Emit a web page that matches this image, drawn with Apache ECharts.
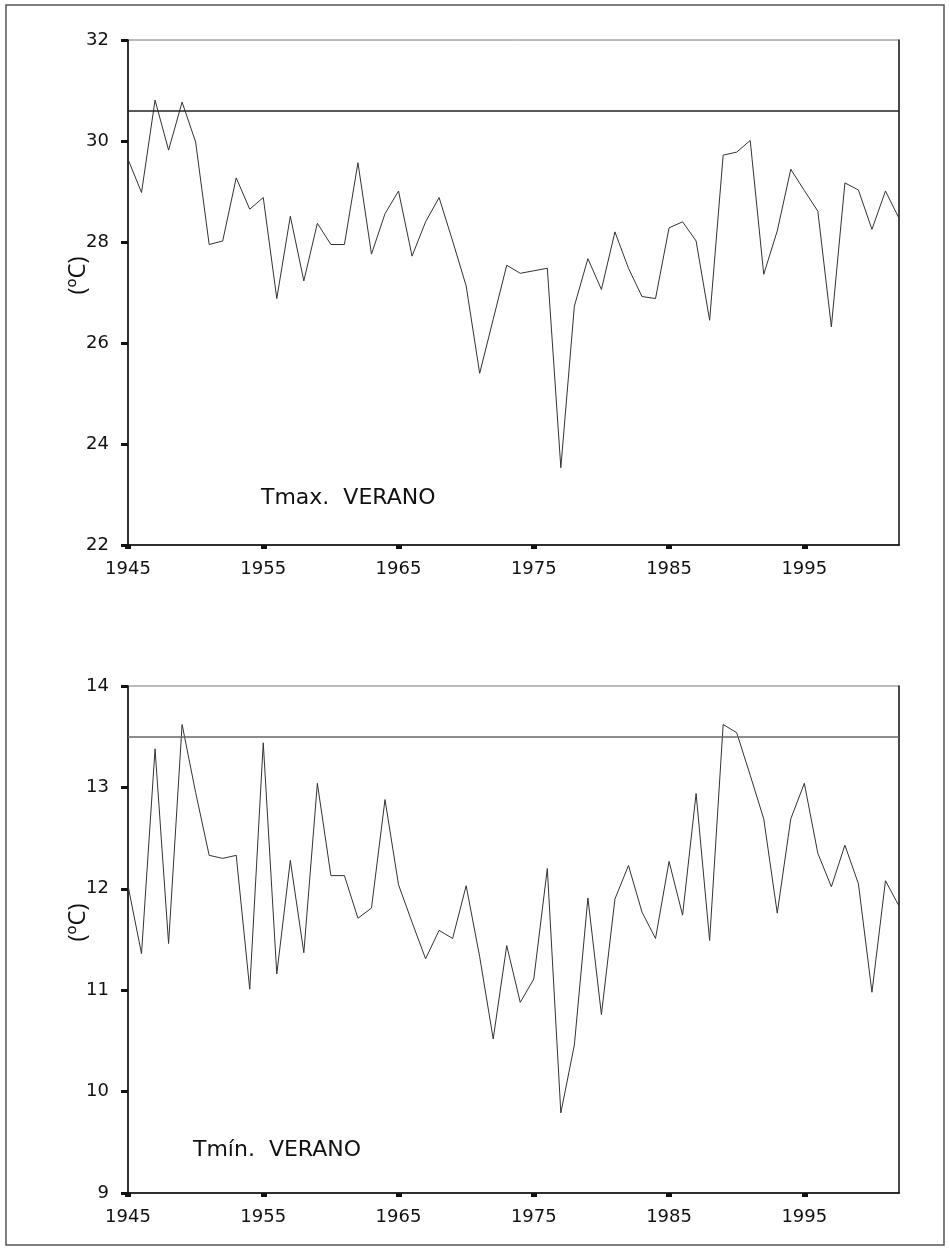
<!DOCTYPE html>
<html>
<head>
<meta charset="utf-8">
<title>Tmax / Tmín VERANO</title>
<script src="https://cdn.jsdelivr.net/npm/echarts@6/dist/echarts.min.js"></script>
<style>
  html, body { margin: 0; padding: 0; background: #fff; }
  #chart { width: 949px; height: 1250px; }
</style>
</head>
<body>
<div id="chart"></div>
<script>
const years = ['1945', '1946', '1947', '1948', '1949', '1950', '1951', '1952', '1953', '1954',
    '1955', '1956', '1957', '1958', '1959', '1960', '1961', '1962', '1963', '1964',
    '1965', '1966', '1967', '1968', '1969', '1970', '1971', '1972', '1973', '1974',
    '1975', '1976', '1977', '1978', '1979', '1980', '1981', '1982', '1983', '1984',
    '1985', '1986', '1987', '1988', '1989', '1990', '1991', '1992', '1993', '1994',
    '1995', '1996', '1997', '1998', '1999', '2000', '2001', '2002'];

const tmaxVerano = [29.64, 28.98, 30.81, 29.82, 30.77, 29.98, 27.95, 28.02, 29.27, 28.65,
    28.88, 26.88, 28.51, 27.23, 28.37, 27.95, 27.95, 29.57, 27.76, 28.56,
    29.01, 27.72, 28.40, 28.88, 28.02, 27.13, 25.40, 26.47, 27.54, 27.38,
    27.43, 27.48, 23.53, 26.73, 27.67, 27.06, 28.20, 27.48, 26.92, 26.88,
    28.28, 28.40, 28.02, 26.45, 29.72, 29.78, 30.01, 27.36, 28.22, 29.44,
    29.02, 28.61, 26.32, 29.17, 29.03, 28.25, 29.01, 28.47];

const tminVerano = [12.03, 11.36, 13.38, 11.46, 13.62, 12.95, 12.33, 12.30, 12.33, 11.01,
    13.44, 11.16, 12.28, 11.37, 13.04, 12.13, 12.13, 11.71, 11.81, 12.88,
    12.04, 11.67, 11.31, 11.59, 11.51, 12.03, 11.33, 10.52, 11.44, 10.88,
    11.11, 12.20, 9.79, 10.46, 11.91, 10.76, 11.90, 12.23, 11.77, 11.51,
    12.27, 11.74, 12.94, 11.49, 13.62, 13.54, 13.12, 12.69, 11.76, 12.69,
    13.04, 12.35, 12.02, 12.43, 12.05, 10.98, 12.08, 11.83];

const tmaxRef = 30.6;
const tminRef = 13.5;

var chart = echarts.init(document.getElementById('chart'));

var labelFont = 'DejaVu Sans';

function xAxisFor(gridIndex) {
    return {
        type: 'category',
        gridIndex: gridIndex,
        data: years,
        boundaryGap: false,
        axisLine: { lineStyle: { color: '#000', width: 1.5 } },
        axisTick: { show: true, interval: 9, length: 4, lineStyle: { color: '#111', width: 6 } },
        axisLabel: { interval: 9, margin: 15, color: '#111', fontSize: 18, fontFamily: labelFont },
        splitLine: { show: false }
    };
}

function yAxisFor(gridIndex, min, max, interval) {
    return {
        type: 'value',
        gridIndex: gridIndex,
        min: min,
        max: max,
        interval: interval,
        name: '(ºC)',
        nameLocation: 'middle',
        nameRotate: 90,
        nameGap: 38,
        nameMoveOverlap: false,
        nameTextStyle: { color: '#111', fontSize: 24, fontFamily: 'Open Sans', padding: [0, 0, 0, 34] },
        axisLine: { show: true, lineStyle: { color: '#000', width: 1.5 } },
        axisTick: { show: true, inside: false, length: 7, lineStyle: { color: '#111', width: 3 } },
        axisLabel: { margin: 19, color: '#111', fontSize: 18, fontFamily: labelFont },
        splitLine: { show: false }
    };
}

function rightBorder(gridIndex, min, max) {
    return {
        type: 'value',
        gridIndex: gridIndex,
        position: 'right',
        min: min,
        max: max,
        axisLine: { show: true, lineStyle: { color: '#222', width: 1.5 } },
        axisTick: { show: false },
        axisLabel: { show: false },
        splitLine: { show: false }
    };
}

function seriesFor(index, values, refValue, refColor) {
    return {
        type: 'line',
        xAxisIndex: index,
        yAxisIndex: index * 2,
        data: values,
        symbol: 'none',
        lineStyle: { color: '#333', width: 1 },
        markLine: {
            silent: true,
            symbol: 'none',
            label: { show: false },
            lineStyle: { color: refColor, width: 1.5, type: 'solid' },
            data: [{ yAxis: refValue }]
        },
        animation: false
    };
}

var option = {
    backgroundColor: '#fff',
    animation: false,
    title: [
        {
            text: 'Tmax.  VERANO',
            left: 261, top: 487,
            padding: 0,
            textStyle: { color: '#111', fontSize: 22, fontWeight: 'normal', fontFamily: labelFont }
        },
        {
            text: 'Tmín.  VERANO',
            left: 193, top: 1139,
            padding: 0,
            textStyle: { color: '#111', fontSize: 22, fontWeight: 'normal', fontFamily: labelFont }
        }
    ],
    grid: [
        { left: 128, top: 40, width: 771, height: 505, show: true, borderColor: '#777', borderWidth: 1 },
        { left: 128, top: 686, width: 771, height: 507, show: true, borderColor: '#777', borderWidth: 1 }
    ],
    xAxis: [xAxisFor(0), xAxisFor(1)],
    yAxis: [
        yAxisFor(0, 22, 32, 2), rightBorder(0, 22, 32),
        yAxisFor(1, 9, 14, 1), rightBorder(1, 9, 14)
    ],
    series: [
        seriesFor(0, tmaxVerano, tmaxRef, '#222'),
        seriesFor(1, tminVerano, tminRef, '#666')
    ],
    graphic: [
        {
            type: 'rect',
            shape: { x: 6, y: 5, width: 938, height: 1240 },
            style: { fill: 'none', stroke: '#555', lineWidth: 1.5 },
            silent: true
        }
    ]
};

chart.setOption(option);

window.addEventListener('resize', function () {
    chart.resize();
});
</script>
</body>
</html>
